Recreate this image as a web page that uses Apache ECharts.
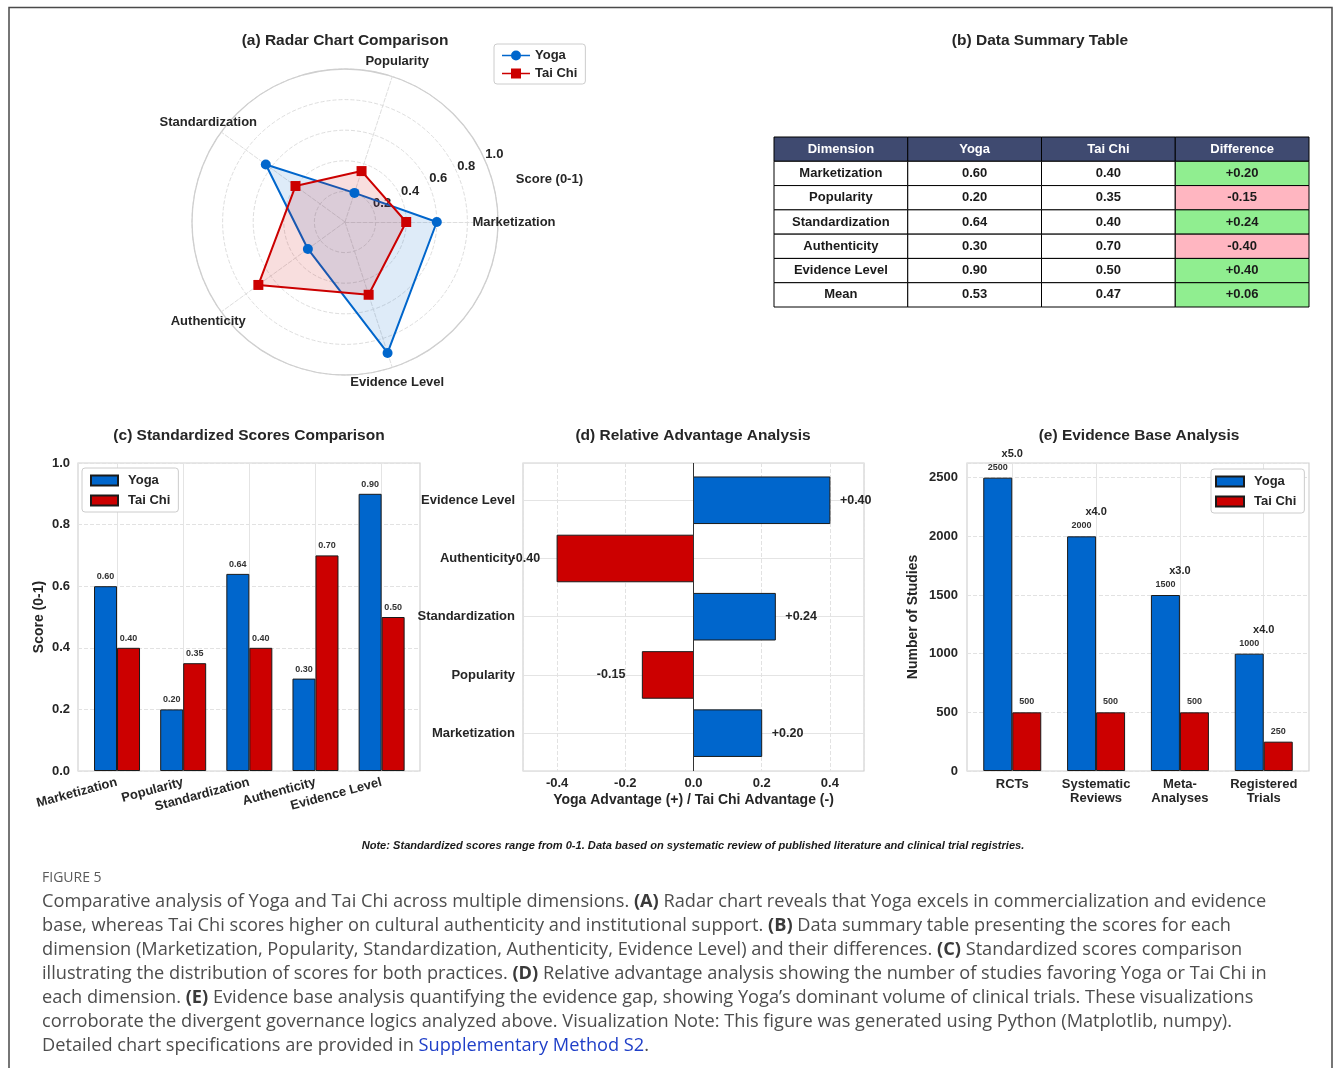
<!DOCTYPE html>
<html>
<head>
<meta charset="utf-8">
<title>Yoga vs Tai Chi - Figure 5</title>
<script src="https://cdn.jsdelivr.net/npm/echarts@6.0.0/dist/echarts.min.js"></script>
<style>
  html, body { margin: 0; padding: 0; background: #ffffff; }
  #chart { width: 1335px; height: 1068px; }
</style>
</head>
<body>
<div id="chart"></div>
<script>
// ---- data ----
const dimensions = ['Marketization', 'Popularity', 'Standardization', 'Authenticity', 'Evidence Level'];
const yogaScores = [0.60, 0.20, 0.64, 0.30, 0.90];
const taiChiScores = [0.40, 0.35, 0.40, 0.70, 0.50];

const evidenceTypes = ['RCTs', 'Systematic\nReviews', 'Meta-\nAnalyses', 'Registered\nTrials'];
const yogaStudies = [2500, 2000, 1500, 1000];
const taiChiStudies = [500, 500, 500, 250];

const tableHeader = ['Dimension', 'Yoga', 'Tai Chi', 'Difference'];
const meanLabel = 'Mean';

// ---- derived ----
const differences = yogaScores.map((v, i) => v - taiChiScores[i]);
const mean = arr => arr.reduce((a, b) => a + b, 0) / arr.length;
const yogaMean = mean(yogaScores);
const taiChiMean = mean(taiChiScores);
const signed = v => (v >= 0 ? '+' : '') + v.toFixed(2);

const tableRows = [tableHeader];
dimensions.forEach((d, i) => {
    tableRows.push([d, yogaScores[i].toFixed(2), taiChiScores[i].toFixed(2), signed(differences[i])]);
});
tableRows.push([meanLabel, yogaMean.toFixed(2), taiChiMean.toFixed(2), signed(yogaMean - taiChiMean)]);
const tableDiffs = differences.concat([yogaMean - taiChiMean]);

const tableCells = [];
tableRows.forEach((row, r) => row.forEach((_, c) => tableCells.push([c, r])));

// ---- style ----
const FONT = 'Liberation Sans, Arial, sans-serif';
const INK = '#262626';
const BLUE = '#0066CC';
const RED = '#CC0000';
const EDGE = '#1a1a1a';
const SPINE = '#d2d2d2';
const GRID_SOLID = '#e4e4e4';
const GRID_DASH = '#e2e2e2';

const lineCircle = 'path://M0,4.7H28V6.3H0Z M14,0.5A5,5,0,1,1,14,10.5A5,5,0,1,1,14,0.5Z';
const lineSquare = 'path://M0,4.7H28V6.3H0Z M9,0.5H19V10.5H9Z';

const catLabel = cats => v => (Number.isInteger(v) && cats[v] !== undefined ? cats[v] : '');
const boldText = (size, extra) => Object.assign({ fontFamily: FONT, fontWeight: 'bold', fontSize: size, color: INK }, extra || {});

const chart = echarts.init(document.getElementById('chart'));

const captionLines = [
    [['n', 'Comparative analysis of Yoga and Tai Chi across multiple dimensions. '], ['b', '(A)'], ['n', ' Radar chart reveals that Yoga excels in commercialization and evidence']],
    [['n', 'base, whereas Tai Chi scores higher on cultural authenticity and institutional support. '], ['b', '(B)'], ['n', ' Data summary table presenting the scores for each']],
    [['n', 'dimension (Marketization, Popularity, Standardization, Authenticity, Evidence Level) and their differences. '], ['b', '(C)'], ['n', ' Standardized scores comparison']],
    [['n', 'illustrating the distribution of scores for both practices. '], ['b', '(D)'], ['n', ' Relative advantage analysis showing the number of studies favoring Yoga or Tai Chi in']],
    [['n', 'each dimension. '], ['b', '(E)'], ['n', ' Evidence base analysis quantifying the evidence gap, showing Yoga\u2019s dominant volume of clinical trials. These visualizations']],
    [['n', 'corroborate the divergent governance logics analyzed above. Visualization Note: This figure was generated using Python (Matplotlib, numpy).']],
    [['n', 'Detailed chart specifications are provided in '], ['a', 'Supplementary Method S2'], ['n', '.']]
];
const captionText = captionLines.map(line => line.map(([k, t]) => '{' + k + '|' + t + '}').join('')).join('\n');
const CAP_FONT = 'Open Sans, Lato, sans-serif';

const panelTitle = (text, x, y) => ({
    type: 'text', x: x, y: y,
    style: { text: text, align: 'center', verticalAlign: 'middle', fill: INK, font: 'bold 15.5px ' + FONT }
});

const option = {
    backgroundColor: '#ffffff',
    animation: false,
    graphic: [
        { type: 'polyline', shape: { points: [[9, 1068], [9, 7.5], [1332, 7.5], [1332, 1068]] },
          style: { stroke: '#4a4a4a', lineWidth: 1.5, fill: null } },
        panelTitle('(a) Radar Chart Comparison', 345, 41),
        panelTitle('(b) Data Summary Table', 1040, 41),
        panelTitle('(c) Standardized Scores Comparison', 249, 436),
        panelTitle('(d) Relative Advantage Analysis', 693, 436),
        panelTitle('(e) Evidence Base Analysis', 1139, 436),
        { type: 'text', x: 693, y: 846,
          style: { text: 'Note: Standardized scores range from 0-1. Data based on systematic review of published literature and clinical trial registries.',
                   align: 'center', verticalAlign: 'middle', fill: '#1a1a1a', font: 'italic bold 11.1px ' + FONT } },
        { type: 'text', x: 42, y: 878,
          style: { text: 'FIGURE 5', align: 'left', verticalAlign: 'middle', fill: '#5a5a5a', font: '14px ' + CAP_FONT } },
        { type: 'text', x: 42, y: 890,
          style: {
              text: captionText, align: 'left', verticalAlign: 'top',
              rich: {
                  n: { fill: '#4d4d4d', fontSize: 18.2, fontFamily: CAP_FONT, lineHeight: 24 },
                  b: { fill: '#3a3a3a', fontSize: 18.2, fontFamily: CAP_FONT, fontWeight: 'bold', lineHeight: 24 },
                  a: { fill: '#1f3fc8', fontSize: 18.2, fontFamily: CAP_FONT, lineHeight: 24 }
              }
          } }
    ],
    legend: [
        { orient: 'vertical', left: 494, top: 44, padding: [5, 8, 4, 8], itemGap: 5, itemWidth: 28, itemHeight: 11,
          backgroundColor: '#fff', borderColor: '#cccccc', borderWidth: 1, borderRadius: 3,
          textStyle: boldText(13), selectedMode: false,
          data: [{ name: 'Yoga', icon: lineCircle, itemStyle: { borderWidth: 0 } },
                 { name: 'Tai Chi', icon: lineSquare, itemStyle: { borderWidth: 0 } }] },
        { orient: 'vertical', left: 82, top: 468, padding: [6, 8, 5, 8], itemGap: 7, itemWidth: 27, itemHeight: 10,
          backgroundColor: '#fff', borderColor: '#cccccc', borderWidth: 1, borderRadius: 3,
          textStyle: boldText(13, { padding: [0, 0, 0, 5] }), selectedMode: false, icon: 'rect',
          data: ['Yoga', 'Tai Chi'] },
        { orient: 'vertical', left: 1211, top: 469, padding: [6, 8, 5, 4], itemGap: 7, itemWidth: 28, itemHeight: 10,
          backgroundColor: '#fff', borderColor: '#cccccc', borderWidth: 1, borderRadius: 3,
          textStyle: boldText(13, { padding: [0, 0, 0, 5] }), selectedMode: false, icon: 'rect',
          data: ['Yoga', 'Tai Chi'] }
    ],
    radar: {
        center: [345, 222], radius: 153, startAngle: 0, shape: 'circle', splitNumber: 5,
        indicator: dimensions.map(d => ({ name: d, min: 0, max: 1 })),
        nameGap: 16,
        axisName: boldText(13, { align: 'center', verticalAlign: 'middle' }),
        splitLine: { lineStyle: { color: '#dedede', type: 'dashed', width: 1 } },
        splitArea: { show: false },
        axisLine: { lineStyle: { color: '#dedede', type: 'dashed', width: 1 } }
    },
    polar: { center: [345, 222], radius: 153 },
    angleAxis: {
        type: 'value', min: 0, max: 360, startAngle: 23.5,
        axisLine: { show: true, lineStyle: { color: '#cfcfcf', width: 1.3 } },
        axisTick: { show: false }, axisLabel: { show: false }, splitLine: { show: false }
    },
    radiusAxis: {
        min: 0, max: 1, interval: 0.2,
        axisLine: { show: false }, axisTick: { show: false }, splitLine: { show: false },
        axisLabel: boldText(13, { showMinLabel: false, margin: 0, align: 'left', verticalAlign: 'bottom',
                                  formatter: v => v.toFixed(1) }),
        name: 'Score (0-1)', nameLocation: 'end', nameGap: 30,
        nameTextStyle: boldText(13, { align: 'left', verticalAlign: 'top', padding: [24, 0, 0, 3] })
    },
    grid: [
        { left: 78, top: 463, width: 342, height: 308, show: true, borderColor: SPINE, borderWidth: 1.2, outerBoundsMode: 'none' },
        { left: 523, top: 463, width: 341, height: 308, show: true, borderColor: SPINE, borderWidth: 1.2, outerBoundsMode: 'none' },
        { left: 967, top: 463, width: 342, height: 308, show: true, borderColor: SPINE, borderWidth: 1.2, outerBoundsMode: 'none' },
        { left: 774, top: 137, width: 535, height: 170, show: false, outerBoundsMode: 'none' }
    ],
    xAxis: [
        { gridIndex: 0, type: 'value', min: -0.59, max: 4.58, minInterval: 1, maxInterval: 1,
          axisLine: { show: false }, axisTick: { show: false },
          splitLine: { show: true, lineStyle: { color: GRID_SOLID, width: 1 } },
          axisLabel: boldText(13, { rotate: 15, margin: 11, formatter: catLabel(dimensions) }) },
        { gridIndex: 1, type: 'value', min: -0.5, max: 0.5, minInterval: 0.2, maxInterval: 0.2,
          axisLine: { show: false }, axisTick: { show: false },
          splitLine: { show: true, lineStyle: { color: GRID_DASH, type: 'dashed', width: 1 } },
          axisLabel: boldText(13, { margin: 6, showMinLabel: false, showMaxLabel: false, formatter: v => v.toFixed(1) }),
          name: 'Yoga Advantage (+) / Tai Chi Advantage (-)', nameLocation: 'middle', nameGap: 22,
          nameTextStyle: boldText(14) },
        { gridIndex: 2, type: 'value', min: -0.54, max: 3.54, minInterval: 1, maxInterval: 1,
          axisLine: { show: false }, axisTick: { show: false },
          splitLine: { show: true, lineStyle: { color: GRID_SOLID, width: 1 } },
          axisLabel: boldText(13, { margin: 6, lineHeight: 14, align: 'center', formatter: catLabel(evidenceTypes) }) },
        { gridIndex: 3, type: 'category', data: tableHeader, show: false }
    ],
    yAxis: [
        { gridIndex: 0, type: 'value', min: 0, max: 1, interval: 0.2,
          axisLine: { show: false }, axisTick: { show: false },
          splitLine: { show: true, lineStyle: { color: GRID_DASH, type: 'dashed', width: 1 } },
          axisLabel: boldText(13, { margin: 8, formatter: v => v.toFixed(1) }),
          name: 'Score (0-1)', nameLocation: 'middle', nameGap: 32, nameTextStyle: boldText(14) },
        { gridIndex: 1, type: 'value', min: -0.65, max: 4.64, minInterval: 1, maxInterval: 1,
          axisLine: { show: false }, axisTick: { show: false },
          splitLine: { show: true, lineStyle: { color: GRID_SOLID, width: 1 } },
          axisLabel: boldText(13, { margin: 8, formatter: catLabel(dimensions) }) },
        { gridIndex: 2, type: 'value', min: 0, max: 2625, interval: 500,
          axisLine: { show: false }, axisTick: { show: false },
          splitLine: { show: true, lineStyle: { color: GRID_DASH, type: 'dashed', width: 1 } },
          axisLabel: boldText(13, { margin: 9, showMaxLabel: false, formatter: v => String(v) }),
          name: 'Number of Studies', nameLocation: 'middle', nameGap: 47, nameTextStyle: boldText(14) },
        { gridIndex: 3, type: 'category', data: tableRows.map(r => r[0]), inverse: true, show: false }
    ],
    series: [
        // (c) grouped bars
        { name: 'Yoga', type: 'bar', xAxisIndex: 0, yAxisIndex: 0, barWidth: 23, barGap: '0%',
          data: yogaScores.map((v, i) => [i, v]),
          itemStyle: { color: BLUE, borderColor: EDGE, borderWidth: 1 },
          label: { show: true, position: 'top', distance: 5, formatter: p => p.value[1].toFixed(2),
                   fontFamily: FONT, fontSize: 9, fontWeight: 'bold', color: '#333' } },
        { name: 'Tai Chi', type: 'bar', xAxisIndex: 0, yAxisIndex: 0, barWidth: 23, barGap: '0%',
          data: taiChiScores.map((v, i) => [i, v]),
          itemStyle: { color: RED, borderColor: EDGE, borderWidth: 1 },
          label: { show: true, position: 'top', distance: 5, formatter: p => p.value[1].toFixed(2),
                   fontFamily: FONT, fontSize: 9, fontWeight: 'bold', color: '#333' } },

        // (a) radar
        { type: 'radar', radarIndex: 0, z: 3,
          data: [
              { name: 'Yoga', value: yogaScores, symbol: 'circle', symbolSize: 10,
                itemStyle: { color: BLUE }, lineStyle: { color: BLUE, width: 2 },
                areaStyle: { color: BLUE, opacity: 0.13 } },
              { name: 'Tai Chi', value: taiChiScores, symbol: 'rect', symbolSize: 10,
                itemStyle: { color: RED }, lineStyle: { color: RED, width: 2 },
                areaStyle: { color: RED, opacity: 0.13 } }
          ] },

        // (d) relative advantage
        { type: 'custom', xAxisIndex: 1, yAxisIndex: 1,
          data: differences.map((d, i) => [d, i]),
          encode: { x: 0, y: 1 },
          renderItem: (params, api) => {
              const v = api.value(0), idx = api.value(1);
              const p0 = api.coord([0, idx]);
              const p1 = api.coord([v, idx]);
              const h = api.size([0, 0.8])[1];
              const pos = v >= 0;
              return {
                  type: 'group',
                  children: [
                      { type: 'rect',
                        shape: { x: Math.min(p0[0], p1[0]), y: p0[1] - h / 2, width: Math.abs(p1[0] - p0[0]), height: h },
                        style: { fill: pos ? BLUE : RED, stroke: EDGE, lineWidth: 1 } },
                      { type: 'text', x: p1[0] + (pos ? 10 : -17), y: p0[1],
                        style: { text: signed(v), align: pos ? 'left' : 'right', verticalAlign: 'middle',
                                 fill: INK, font: 'bold 12.5px ' + FONT } }
                  ]
              };
          },
          markLine: { silent: true, symbol: 'none', label: { show: false },
                      lineStyle: { color: '#333', type: 'solid', width: 1 },
                      data: [{ xAxis: 0 }] } },

        // (e) evidence base
        { name: 'Yoga', type: 'bar', xAxisIndex: 2, yAxisIndex: 2, barWidth: 29, barGap: '0%',
          data: yogaStudies.map((v, i) => [i, v]),
          itemStyle: { color: BLUE, borderColor: EDGE, borderWidth: 1 },
          label: { show: true, position: 'top', distance: 6, formatter: p => String(p.value[1]),
                   fontFamily: FONT, fontSize: 9, fontWeight: 'bold', color: '#333' } },
        { name: 'Tai Chi', type: 'bar', xAxisIndex: 2, yAxisIndex: 2, barWidth: 29, barGap: '0%',
          data: taiChiStudies.map((v, i) => [i, v]),
          itemStyle: { color: RED, borderColor: EDGE, borderWidth: 1 },
          label: { show: true, position: 'top', distance: 6, formatter: p => String(p.value[1]),
                   fontFamily: FONT, fontSize: 9, fontWeight: 'bold', color: '#333' } },
        { type: 'custom', xAxisIndex: 2, yAxisIndex: 2, z: 5,
          data: yogaStudies.map((v, i) => [i, v]),
          encode: { x: 0, y: 1 },
          renderItem: (params, api) => {
              const p = api.coord([api.value(0), api.value(1)]);
              const i = params.dataIndex;
              return { type: 'text', x: p[0], y: p[1] - 24,
                       style: { text: 'x' + (yogaStudies[i] / taiChiStudies[i]).toFixed(1), align: 'center',
                                verticalAlign: 'middle', fill: '#262626', font: 'bold 11px ' + FONT } };
          } },

        // (b) summary table
        { type: 'custom', xAxisIndex: 3, yAxisIndex: 3,
          data: tableCells,
          encode: { x: 0, y: 1 },
          renderItem: (params, api) => {
              const c = api.value(0), r = api.value(1);
              const p = api.coord([c, r]);
              const s = api.size([1, 1]);
              let fill = '#ffffff', color = '#1a1a1a';
              if (r === 0) { fill = '#3f4a70'; color = '#ffffff'; }
              else if (c === 3) { fill = tableDiffs[r - 1] >= 0 ? '#90EE90' : '#FFB6C1'; }
              return {
                  type: 'group',
                  children: [
                      { type: 'rect', shape: { x: p[0] - s[0] / 2, y: p[1] - s[1] / 2, width: s[0], height: s[1] },
                        style: { fill: fill, stroke: '#000', lineWidth: 1 } },
                      { type: 'text', x: p[0], y: p[1],
                        style: { text: tableRows[r][c], align: 'center', verticalAlign: 'middle',
                                 fill: color, font: 'bold 13px ' + FONT } }
                  ]
              };
          } }
    ]
};

chart.setOption(option);
window.addEventListener('resize', () => chart.resize());
</script>
</body>
</html>
